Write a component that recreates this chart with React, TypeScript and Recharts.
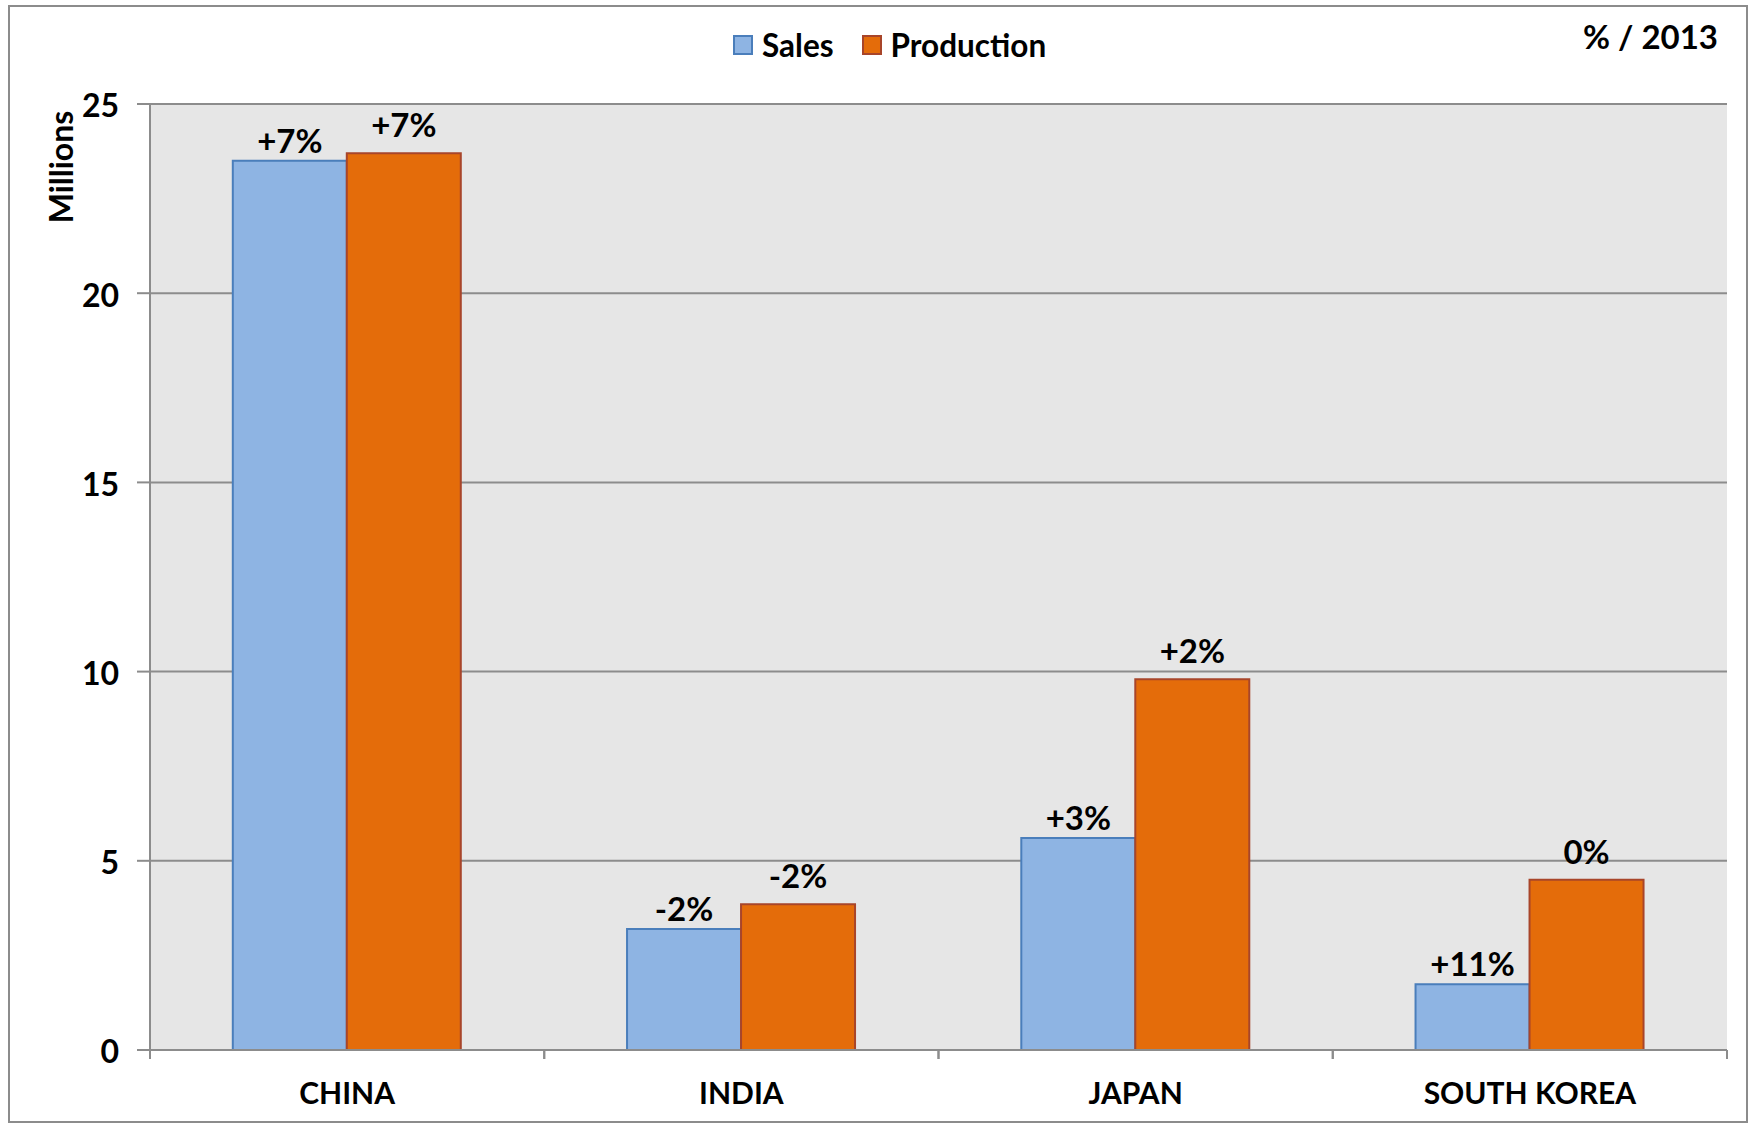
import React from 'react';
import { BarChart, Bar, XAxis, YAxis, CartesianGrid, LabelList } from 'recharts';

const countries = ['CHINA', 'INDIA', 'JAPAN', 'SOUTH KOREA'];
const sales = [23.5, 3.2, 5.6, 1.74];
const production = [23.7, 3.85, 9.8, 4.5];
const salesChange = ['+7%', '-2%', '+3%', '+11%'];
const productionChange = ['+7%', '-2%', '+2%', '0%'];
const yTicks = [0, 5, 10, 15, 20, 25];

const data = countries.map((name, i) => ({
  name,
  sales: sales[i],
  production: production[i],
  salesLabel: salesChange[i],
  productionLabel: productionChange[i],
}));

const FONT = 'Lato, "Open Sans", "DejaVu Sans", sans-serif';
const AXIS_GREY = '#8c8c8c';
const SALES_FILL = '#8eb4e3';
const SALES_EDGE = '#4a7ebb';
const PROD_FILL = '#e46c0a';
const PROD_EDGE = '#a8452a';

const textStyle = { fontSize: 30, fontWeight: 700, fill: '#000', fontFamily: FONT };
const tickStyle = { ...textStyle, fontSize: 32 };
const valueStyle = { ...textStyle, fontSize: 33 };

// category label plus the little boundary ticks Excel draws between groups
const CategoryTick = (props: any) => {
  const { x, y, payload } = props;
  const half = payload && payload.offset ? payload.offset : 197;
  return (
    <g>
      <line x1={x - half} y1={y} x2={x - half} y2={y + 9} stroke={AXIS_GREY} strokeWidth={2} />
      <line x1={x + half} y1={y} x2={x + half} y2={y + 9} stroke={AXIS_GREY} strokeWidth={2} />
      <text x={x} y={y + 54} textAnchor="middle" style={textStyle}>
        {payload.value}
      </text>
    </g>
  );
};

const MillionsLabel = (props: any) => {
  const vb = props.viewBox || { x: 50, y: 104 };
  const cx = vb.x + 23;
  const cy = vb.y + 63;
  return (
    <text x={cx} y={cy} transform={`rotate(-90, ${cx}, ${cy})`} textAnchor="middle" style={tickStyle}>
      Millions
    </text>
  );
};

const App: React.FC = () => {
  return (
    <div style={{ position: 'absolute', left: 0, top: 0, width: 1748, height: 1123, background: '#fff', fontFamily: FONT }}>
      <div
        style={{
          position: 'absolute',
          left: 8,
          top: 5,
          width: 1736,
          height: 1114,
          border: `2px solid ${AXIS_GREY}`,
        }}
      />
      <BarChart
        width={1748}
        height={1123}
        data={data}
        margin={{ top: 104, right: 21, bottom: 23, left: 50 }}
        barCategoryGap="21%"
        barGap={0}
      >
        <CartesianGrid vertical={false} fill="#e6e6e6" stroke={AXIS_GREY} strokeWidth={2} />
        <XAxis
          dataKey="name"
          height={50}
          tickLine={false}
          tickSize={0}
          tickMargin={0}
          axisLine={{ stroke: AXIS_GREY, strokeWidth: 2 }}
          tick={<CategoryTick />}
          interval={0}
        />
        <YAxis
          width={100}
          domain={[0, 25]}
          ticks={yTicks}
          interval={0}
          tickSize={13}
          tickMargin={18}
          axisLine={{ stroke: AXIS_GREY, strokeWidth: 2 }}
          tickLine={{ stroke: AXIS_GREY, strokeWidth: 2 }}
          tick={{ ...tickStyle, dy: 2 }}
          label={<MillionsLabel />}
        />
        <Bar dataKey="sales" fill={SALES_FILL} stroke={SALES_EDGE} strokeWidth={2} isAnimationActive={false}>
          <LabelList dataKey="salesLabel" position="top" offset={8} style={valueStyle} />
        </Bar>
        <Bar dataKey="production" fill={PROD_FILL} stroke={PROD_EDGE} strokeWidth={2} isAnimationActive={false}>
          <LabelList dataKey="productionLabel" position="top" offset={16} style={valueStyle} />
        </Bar>
      </BarChart>

      {/* legend */}
      <div style={{ position: 'absolute', left: 733, top: 25, display: 'flex', alignItems: 'center', height: 40 }}>
        <span style={{ width: 16, height: 16, background: SALES_FILL, border: `2px solid ${SALES_EDGE}`, display: 'inline-block' }} />
        <span style={{ marginLeft: 9, fontSize: 31.5, fontWeight: 700, color: '#000' }}>Sales</span>
        <span style={{ marginLeft: 28, width: 16, height: 16, background: PROD_FILL, border: `2px solid ${PROD_EDGE}`, display: 'inline-block' }} />
        <span style={{ marginLeft: 9, fontSize: 31.5, fontWeight: 700, color: '#000' }}>Production</span>
      </div>

      <div style={{ position: 'absolute', right: 30, top: 16, fontSize: 33, fontWeight: 700, color: '#000' }}>
        % / 2013
      </div>
    </div>
  );
};

export default App;
